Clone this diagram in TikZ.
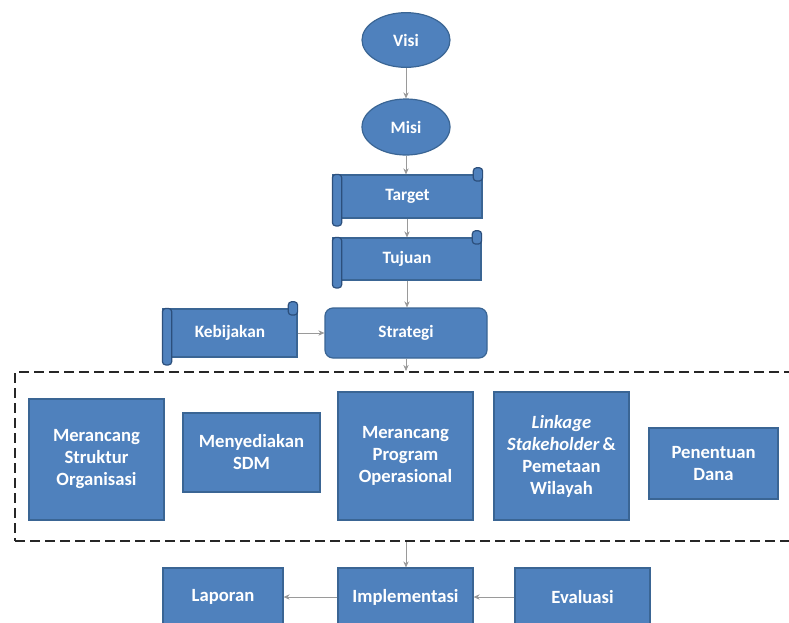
\documentclass[tikz,border=0pt]{standalone}
\usepackage{fontspec}
\setmainfont{Carlito}
\usetikzlibrary{shapes.geometric,arrows.meta,calc}
\definecolor{boxblue}{HTML}{4F81BD}
\definecolor{boxedge}{HTML}{3A6594}
\definecolor{rolledge}{HTML}{2C4F7C}
\definecolor{conn}{HTML}{9A9A9A}
\tikzset{
  base/.style={fill=boxblue, draw=boxedge, line width=0.9pt, text=white, font=\fontsize{14}{16.5}\selectfont\bfseries, align=center, inner sep=2pt},
  oval/.style={base, ellipse, minimum width=66pt, minimum height=41pt, font=\fontsize{13}{15}\selectfont\bfseries},
  scrollbody/.style={base, rectangle, font=\fontsize{13}{15}\selectfont\bfseries},
  roll/.style={fill=boxblue, draw=rolledge, line width=0.9pt, rounded corners=2.5pt},
  plainbox/.style={base, rectangle},
  conn/.style={draw=conn, line width=0.6pt, -{Stealth[length=4.5pt,width=4pt]}},
  frame/.style={draw=black!85, line width=1.6pt, dash pattern=on 7.5pt off 3.75pt, rectangle, fill=none}
}
\begin{document}
\begin{tikzpicture}[x=0.75pt,y=-0.75pt]
\useasboundingbox[fill=white] (0,0) rectangle (789,622);
\clip (0,0) rectangle (789,622);

% ovals
\node[oval] (visi) at (406,40) {Visi};
\node[oval, minimum height=42pt] (misi) at (406,127) {Misi};

% scrolls
\node[scrollbody, minimum width=111.75pt, minimum height=32.25pt] (target) at (407.5,196.5) {Target};
\node[scrollbody, minimum width=111pt, minimum height=31.5pt] (tujuan) at (407,259) {Tujuan};
\node[scrollbody, minimum width=100.5pt, minimum height=36pt] (kebijakan) at (230,333) {Kebijakan};
\foreach \n in {target,tujuan,kebijakan}{
  \draw[roll] (\n.north west) rectangle ([xshift=7pt,yshift=-5.5pt]\n.south west);
  \draw[roll] ([xshift=-7pt,yshift=5pt]\n.north east) rectangle ([yshift=-5pt]\n.north east);
}

% strategi
\node[base, rectangle, rounded corners=6pt, minimum width=121.5pt, minimum height=37.5pt, font=\fontsize{13}{15}\selectfont\bfseries] (strategi) at (406,333) {Strategi};

% dashed group frame
\node[frame, minimum width=588.75pt, minimum height=126.75pt] (grp) at (407.5,456.5) {};

% inner boxes
\node[plainbox, minimum width=101.25pt, minimum height=90.75pt] (b1) at (96.5,459.5) {Merancang\\Struktur\\Organisasi};
\node[plainbox, minimum width=102.75pt, minimum height=59.25pt] (b2) at (251.5,452.5) {Menyediakan\\SDM};
\node[plainbox, minimum width=101.25pt, minimum height=96pt] (b3) at (405.5,456) {Merancang\\Program\\Operasional};
\node[plainbox, minimum width=101.25pt, minimum height=96pt] (b4) at (561.5,456) {\itshape Linkage\\\textit{Stakeholder}\,\&\\Pemetaan\\Wilayah};
\node[plainbox, minimum width=96.75pt, minimum height=53.25pt] (b5) at (713.5,463.5) {Penentuan\\Dana};

% bottom row
\node[plainbox, minimum width=90pt, minimum height=43.5pt] (laporan) at (223,597) {Laporan};
\node[plainbox, minimum width=101.25pt, minimum height=43.5pt] (impl) at (405.5,597) {Implementasi};
\node[plainbox, minimum width=101.25pt, minimum height=43.5pt] (evaluasi) at (582.5,597) {Evaluasi};

% connectors
\draw[conn] (visi) -- (misi);
\draw[conn] (misi) -- (misi |- target.north);
\draw[conn] (target.south -| tujuan.north) -- (tujuan.north);
\draw[conn] (tujuan.south) -- (tujuan.south |- strategi.north);
\draw[conn] (kebijakan.east) -- (strategi.west);
\draw[conn] (strategi.south) -- (strategi.south |- grp.north);
\draw[conn] (strategi.south |- grp.south) -- (strategi.south |- impl.north);
\draw[conn] (impl.west) -- (laporan.east);
\draw[conn] (evaluasi.west) -- (impl.east);
\end{tikzpicture}
\end{document}
